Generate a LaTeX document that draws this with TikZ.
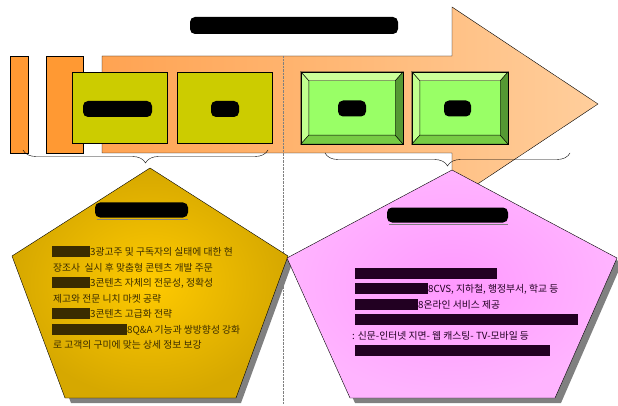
\documentclass[tikz,border=0pt]{standalone}
\usepackage{fontspec}
\newfontfamily\kr{Noto Sans CJK KR}
\usetikzlibrary{calc,decorations.pathreplacing}

\definecolor{barorange}{HTML}{FF9933}
\definecolor{arrowleft}{HTML}{FFA352}
\definecolor{arrowright}{HTML}{FFCE9C}
\definecolor{olivebox}{HTML}{CCCC00}
\definecolor{greenmid}{HTML}{99FF66}
\definecolor{greenlight}{HTML}{CCFF99}
\definecolor{greenlow}{HTML}{77CC44}
\definecolor{greendark}{HTML}{559933}
\definecolor{goldin}{HTML}{FFCA00}
\definecolor{goldout}{HTML}{D6A800}
\definecolor{pinkin}{HTML}{FF99FF}
\definecolor{pinkout}{HTML}{FFB4FF}
\definecolor{inkgold}{HTML}{3A2C00}
\definecolor{inkpink}{HTML}{220022}

\newcommand\blot[1]{\rule[-1.5pt]{#1pt}{11pt}}

\tikzset{
  ybox/.style={draw, fill=olivebox, minimum width=95pt, minimum height=71pt, inner sep=0},
  gbox/.style={draw, fill=greenmid, minimum height=72pt, inner sep=0},
  blot/.style={fill=black, rounded corners=5pt, minimum height=16pt, inner sep=0},
  ltxt/.style={anchor=base west, inner sep=0, text=inkgold, font=\kr\fontsize{9.8}{12}\selectfont},
  rtxt/.style={ltxt, text=inkpink},
  curly/.style={decorate, decoration={brace, mirror, amplitude=13pt}, thin}
}

\newcommand\bevel[1]{%
  \fill[greenlight, draw=black, thin] (#1.north west) -- (#1.north east) -- ($(#1.north east)+(-8,9)$) -- ($(#1.north west)+(8,9)$) -- cycle;
  \fill[greenlight!80!greenmid, draw=black, thin] (#1.north west) -- ($(#1.north west)+(8,9)$) -- ($(#1.south west)+(8,-9)$) -- (#1.south west) -- cycle;
  \fill[greenlow, draw=black, thin] (#1.south west) -- ($(#1.south west)+(8,-9)$) -- ($(#1.south east)+(-8,-9)$) -- (#1.south east) -- cycle;
  \fill[greendark, draw=black, thin] (#1.south east) -- ($(#1.south east)+(-8,-9)$) -- ($(#1.north east)+(-8,9)$) -- (#1.north east) -- cycle;
  \draw[thin] (#1.north west) rectangle (#1.south east);
}

\begin{document}
\begin{tikzpicture}[x=1pt, y=-1pt]
\useasboundingbox (0,0) rectangle (618,406);

% title
\node[blot, minimum width=208pt, minimum height=17pt] (title) at (294,25.5) {};

% bars and arrow
\draw[fill=barorange] (10,56) rectangle (28,153);
\draw[fill=barorange] (46,56) rectangle (83,153);
\draw[left color=arrowleft, right color=arrowright] (102,56) -- (452,56) -- (452,7) -- (598,104) -- (452,201) -- (452,153) -- (102,153) -- cycle;
\draw[gray, densely dotted] (283,56) -- (283,404);

% steps
\node[ybox] (plan) at (119.5,107.5) {};
\node[blot, minimum width=69pt] (plantxt) at (117.5,109) {};
\node[ybox] (make) at (225,107.5) {};
\node[blot, minimum width=28pt] (maketxt) at (225,109) {};

\node[gbox, minimum width=102pt] (sell) at (352,108) {};
\bevel{sell}
\node[blot, minimum width=28pt] (selltxt) at (352,108.5) {};
\node[gbox, minimum width=96pt] (use) at (460,108) {};
\bevel{use}
\node[blot, minimum width=27pt] (usetxt) at (457.5,108.5) {};

% braces
\coordinate (lb1) at (23,150);
\coordinate (lb2) at (268,150);
\coordinate (rb1) at (325,153);
\coordinate (rb2) at (570,153);
\draw[curly] (lb1) -- (lb2);
\draw[curly] (rb1) -- (rb2);

% left pentagon
\fill[gray] (155,173) -- (293,261) -- (241,403) -- (71,403) -- (17,261) -- cycle;
\draw[inner color=goldin, outer color=goldout] (150,168) -- (288,256) -- (236,398) -- (65,398) -- (12,256) -- cycle;

% right pentagon
\fill[gray] (457,175) -- (622,263) -- (561,403) -- (355,403) -- (292,263) -- cycle;
\draw[inner color=pinkin, outer color=pinkout] (452,170) -- (617,258) -- (555,398) -- (350,398) -- (287,258) -- cycle;

% left text
\node[blot, minimum width=93pt, minimum height=15pt] (lhead) at (141.5,210) {};
\draw[gray, thick] ($(lhead.south west)+(2,2)$) -- ($(lhead.south east)+(0,2)$);
\node[ltxt] (l1) at (52,255.5) {\blot{38}3광고주 및 구독자의 실태에 대한 현};
\node[ltxt] (l2) at (53,271) {장조사\ \ 실시 후 맞춤형 콘텐츠 개발 주문};
\node[ltxt] (l3) at (52,286.5) {\blot{38}3콘텐츠 자체의 전문성, 정확성};
\node[ltxt] (l4) at (53,302) {제고와 전문 니치 마켓 공략};
\node[ltxt] (l5) at (52,317.5) {\blot{38}3콘텐츠 고급화 전략};
\node[ltxt] (l6) at (52,333) {\blot{75}8Q\&A 기능과 쌍방향성 강화};
\node[ltxt] (l7) at (53,348.5) {로 고객의 구미에 맞는 상세 정보 보강};

% right text
\node[blot, minimum width=121pt, minimum height=15pt] (rhead) at (447.5,215) {};
\draw[gray, thick] ($(rhead.south west)+(2,2)$) -- ($(rhead.south east)+(0,2)$);
\node[rtxt] (r1) at (355,277) {\blot{142}};
\node[rtxt] (r2) at (355,292.5) {\blot{73}8CVS, 지하철, 행정부서, 학교 등};
\node[rtxt] (r3) at (355,308) {\blot{63}8온라인 서비스 제공};
\node[rtxt] (r4) at (355,323.5) {\blot{223}};
\node[rtxt] (r5) at (352,339) {: 신문-인터넷 지면- 웹 캐스팅- TV-모바일 등};
\node[rtxt] (r6) at (355,354.5) {\blot{195}};
\end{tikzpicture}
\end{document}
